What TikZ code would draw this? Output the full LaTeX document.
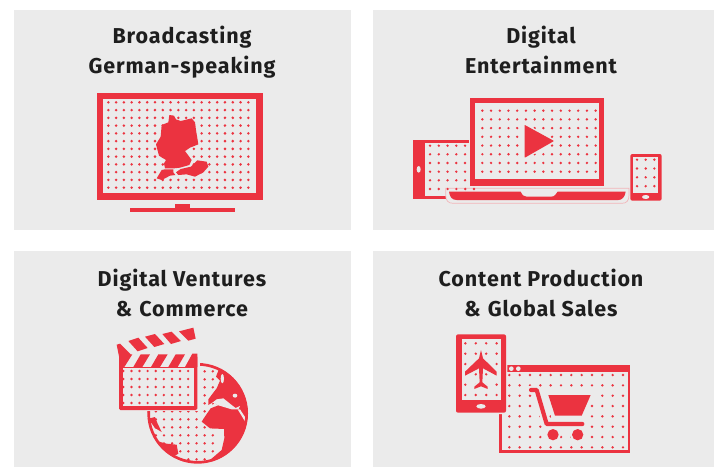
\documentclass[tikz,border=0pt]{standalone}
\usepackage{fontspec}
\setmainfont[LetterSpace=4.2]{Fira Sans}
\definecolor{rd}{HTML}{EB3340}
\definecolor{pg}{HTML}{EBEBEB}
\definecolor{pk}{HTML}{F2B5B9}
\definecolor{tx}{HTML}{1E1E1E}
\newcommand{\dotgrid}[7][1.1]{\foreach \i in {0,...,#4}{\foreach \j in {0,...,#7}{\fill[rd] ({#2+\i*#3},{#5+\j*#6}) circle[radius=#1];}}}
\tikzset{panel/.style={fill=pg,draw=none},
 title/.style={anchor=base,font=\bfseries\fontsize{21.5}{24}\selectfont,text=tx,inner sep=0pt},
 red/.style={fill=rd,draw=none},
 gray/.style={fill=pg,draw=none}}
\begin{document}
\begin{tikzpicture}[x=1pt,y=-1pt]
\useasboundingbox (0,0) rectangle (714,467);
\fill[panel] (14,10) rectangle (351,230);
\fill[panel] (373,10) rectangle (714,230);
\fill[panel] (14,251) rectangle (351,467);
\fill[panel] (373,251) rectangle (714,467);
\node[title] (t1a) at (182,43) {Broadcasting};
\node[title] (t1b) at (182,73) {German-speaking};
\node[title] (t2a) at (541,43) {Digital};
\node[title] (t2b) at (541,73) {Entertainment};
\node[title] (t3a) at (182,286) {Digital Ventures};
\node[title] (t3b) at (182,316) {\&\hspace{7pt}Commerce};
\node[title] (t4a) at (541,286) {Content Production};
\node[title] (t4b) at (541,316) {\&\hspace{7pt}Global Sales};
% TV
\begin{scope}[shift={(90,85)},scale=1/3]
\fill[red] (20,25) rectangle (520,345);
\fill[gray] (40,43) rectangle (497,323);
\fill[red] (120,368) rectangle (435,382);
\fill[red] (255,357) rectangle (300,370);
\dotgrid[4.2]{55}{23.33}{18}{52}{23.27}{11}
\fill[red] (238,90)--(252,92)--(258,103)--(272,108)--(305,100)--(315,112)--(318,135)--(325,178)--(300,188)--(285,198)--(305,225)--(298,240)--(270,248)--(252,250)--(225,250)--(222,235)--(228,225)--(207,212)--(198,178)--(212,155)--(215,120)--(235,112)--cycle;
\fill[red] (303,245)--(322,226)--(350,230)--(355,245)--(340,262)--(315,275)--(290,268)--(265,270)--(258,262)--(272,252)--cycle;
\fill[red] (215,255)--(225,253)--(250,253)--(250,262)--(256,270)--(240,272)--(225,280)--(215,285)--(200,280)--cycle;
\end{scope}
% Devices
\begin{scope}[shift={(405,90)},scale=1/3]
\fill[red] (24,150) rectangle (192,328);
\fill[gray] (60,160) rectangle (192,317);
\fill[gray] (41,238) ellipse[x radius=6,y radius=10];
\fill[gray] (122,295)--(122,315) .. controls (122,332) and (130,340) .. (145,340)--(650,340) .. controls (665,340) and (672,332) .. (672,315)--(672,295)--cycle;
\draw[pk,line width=.7pt] (122,295)--(122,315) .. controls (122,332) and (130,340) .. (145,340)--(650,340) .. controls (665,340) and (672,332) .. (672,315)--(672,295)--cycle;
\fill[red] (132,305)--(347,305) .. controls (352,315) and (355,320) .. (365,320)--(438,320) .. controls (450,320) and (452,312) .. (458,305)--(662,305) .. controls (660,322) and (650,330) .. (640,330)--(155,330) .. controls (140,330) and (134,320) .. (132,305)--cycle;
\dotgrid[4]{75}{26.3}{4}{167}{26}{4}
\dotgrid[4]{75}{26.4}{5}{297}{26}{0}
\fill[red] (195,25) rectangle (598,287);
\fill[gray] (211,40) rectangle (581,268);
\dotgrid[4]{232}{26.15}{13}{62}{26.15}{7}
\draw[pg,fill=pg,line width=3pt,line join=round] (360,105)--(445,153)--(360,203)--cycle;
\draw[rd,fill=rd,line width=1pt,line join=round] (360,107)--(444,153)--(360,201)--cycle;
\fill[red,rounded corners=2pt] (676,192) rectangle (770,332);
\fill[gray] (685,202) rectangle (760,308);
\fill[gray] (722,321) ellipse[x radius=11,y radius=6];
\dotgrid[4]{696}{26}{2}{209}{26.5}{3}
\end{scope}
% Globe and clapper
\begin{scope}[shift={(105,322)},scale=1/3]
\begin{scope}
\clip (278,274) circle[radius=150];
\foreach \i in {0,...,11}{\foreach \j in {0,...,11}{\fill[rd] ({55+\i*24.4},{148+\j*24}) circle[radius=4];}}
% Eurasia and Africa as one land mass
\fill[red] (350,120)--(333,164)--(345,176)--(335,199)--(325,212)--(310,232)--(310,249)--(325,240)--(340,250)--(317,259)--(303,279)--(290,299)--(315,319)--(357,321)--(358,349)--(350,384)--(315,414)--(315,440)--(440,440)--(440,100)--cycle;
% seas
\fill[gray] (312,250)--(335,232)--(355,229)--(380,249)--(392,258)--(405,252)--(400,262)--(380,262)--(360,256)--(340,250)--(325,242)--cycle;
\fill[gray] (352,170) ellipse[x radius=5,y radius=14];
\fill[gray] (390,221) ellipse[x radius=7,y radius=6];
\fill[gray] (398,262)--(405,262)--(420,285)--(424,305)--(412,285)--cycle;
\fill[red] (130,290)--(150,285)--(158,305)--(170,330)--(150,318)--cycle;
\fill[red] (128,350)--(185,365)--(215,368)--(220,395)--(195,410)--(190,440)--(120,440)--cycle;
\end{scope}
\draw[rd,line width=2.7pt] (278,274) circle[radius=147];
\fill[gray] (30,20) rectangle (277,135);
\fill[gray] (42,100) rectangle (285,268);
\fill[red,rounded corners=1.5pt] (42,100) rectangle (277,264);
\fill[gray] (53,138) rectangle (267,253);
\fill[gray] (42,100) rectangle (277,135);
\fill[red] (42,97)--(82,97)--(58,135)--(42,135)--cycle;
\fill[red] (107,97)--(135,97)--(112,135)--(85,135)--cycle;
\fill[red] (160,97)--(188,97)--(165,135)--(138,135)--cycle;
\fill[red] (212,97)--(240,97)--(218,135)--(190,135)--cycle;
\fill[red] (262,95)--(277,95)--(277,135)--(240,135)--cycle;
\fill[red] (35,68)--(45,65)--(78,98)--(42,103)--cycle;
\fill[red] (70,57)--(100,47)--(128,78)--(98,88)--cycle;
\fill[red] (120,44)--(150,36)--(178,66)--(148,75)--cycle;
\fill[red] (172,36)--(200,29)--(228,57)--(198,66)--cycle;
\fill[red] (222,28)--(265,17)--(272,50)--(250,56)--cycle;
\dotgrid[4]{55}{24.3}{8}{147}{24}{4}
\end{scope}
% Phone and shop
\begin{scope}[shift={(445,325)},scale=1/3]
\fill[red] (163,120) rectangle (556,383);
\fill[gray] (170,142) rectangle (550,375);
\fill[gray] (199,131) circle[radius=7];
\fill[gray] (220,131) circle[radius=7];
\dotgrid[4]{193}{31}{11}{150}{31}{7}
\draw[pg,fill=pg,line width=3pt,line join=round] (300,205)--(445,205)--(415,280)--(325,280)--cycle;
\draw[pg,line width=9pt,line cap=round,line join=round] (258,195)--(275,195)--(305,297)--(412,297);
\fill[pg] (324,329) circle[radius=23];
\fill[pg] (398,329) circle[radius=23];
\draw[rd,line width=4.2pt,line cap=round,line join=round] (258,195)--(275,195)--(305,297)--(412,297);
\fill[red] (310,210)--(437,210)--(410,272)--(330,272)--cycle;
\fill[red] (324,329) circle[radius=17];
\fill[red] (398,329) circle[radius=17];
\fill[pg,rounded corners=3pt] (30,25) rectangle (187,267);
\fill[red,rounded corners=2pt] (33,28) rectangle (183,263);
\fill[gray] (50,42) rectangle (167,225);
\fill[gray] (108,244) ellipse[x radius=14,y radius=7];
\dotgrid[4]{61}{31.3}{3}{55}{31}{5}
\draw[pg,fill=pg,line width=3pt,line join=round] (108,72)--(115,100)--(157,138)--(157,154)--(116,135)--(114,172)--(130,185)--(130,194)--(108,187)--(86,194)--(86,185)--(102,172)--(100,135)--(59,154)--(59,138)--(101,100)--cycle;
\fill[red] (108,75)--(114,100)--(155,140)--(155,152)--(114,130)--(112,172)--(128,185)--(128,192)--(108,184)--(88,192)--(88,185)--(104,172)--(102,130)--(60,152)--(60,140)--(102,100)--cycle;
\end{scope}
\end{tikzpicture}
\end{document}
